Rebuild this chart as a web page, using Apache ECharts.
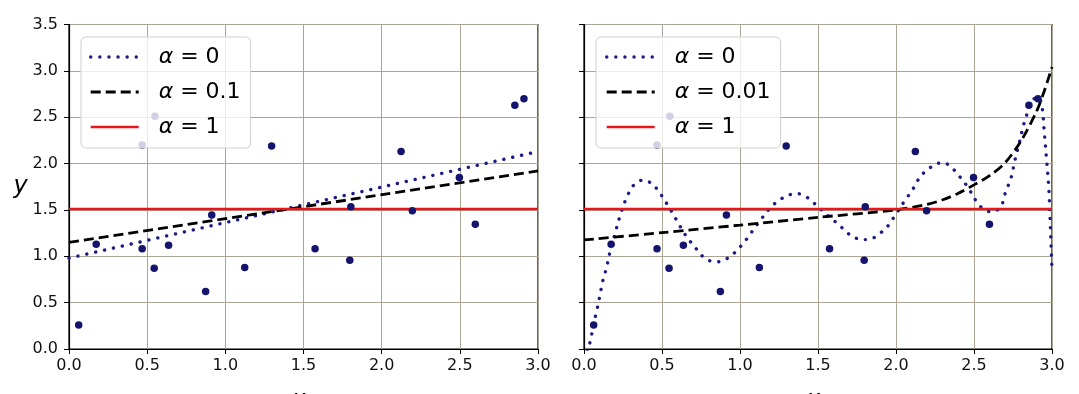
<!DOCTYPE html>
<html>
<head>
<meta charset="utf-8">
<script src="https://cdn.jsdelivr.net/npm/echarts@6/dist/echarts.min.js"></script>
<style>
html,body{margin:0;padding:0;background:#fff;}
#chart{width:1079px;height:394px;}
</style>
</head>
<body>
<div id="chart"></div>
<script>
// ---- data ----
const scatterX = [0.062,0.174,0.468,0.468,0.545,0.550,0.637,0.874,0.913,1.124,1.296,1.574,1.796,1.803,2.124,2.196,2.497,2.599,2.852,2.910];
const scatterY = [0.26,1.13,1.08,2.20,0.87,2.51,1.12,0.62,1.445,0.88,2.19,1.08,0.957,1.535,2.13,1.49,1.85,1.345,2.63,2.70];

// left panel (linear models)
const leftA0 = [[0,0.98],[3,2.13]];
const leftA01 = [[0,1.15],[3,1.92]];
const leftA1 = [[0,1.51],[3,1.51]];

// right panel (polynomial models)
const rightA0 = [
  [0.0,-0.12],[0.03,0.02],[0.045,0.12],[0.06,0.26],[0.08,0.40],[0.10,0.56],[0.12,0.73],[0.145,0.88],
  [0.167,1.05],[0.20,1.25],[0.23,1.43],[0.27,1.62],[0.32,1.77],[0.375,1.82],[0.43,1.79],[0.47,1.72],
  [0.53,1.57],[0.59,1.40],[0.65,1.23],[0.72,1.08],[0.76,1.00],[0.80,0.955],[0.855,0.94],[0.91,0.97],
  [0.96,1.03],[1.0,1.10],[1.04,1.18],[1.07,1.25],[1.14,1.41],[1.21,1.55],[1.26,1.615],[1.31,1.66],
  [1.37,1.675],[1.43,1.635],[1.47,1.58],[1.51,1.52],[1.556,1.45],[1.64,1.33],[1.68,1.265],[1.73,1.205],
  [1.79,1.18],[1.845,1.19],[1.89,1.24],[1.935,1.30],[1.97,1.38],[2.01,1.48],[2.06,1.61],[2.10,1.70],
  [2.13,1.79],[2.16,1.87],[2.20,1.93],[2.25,1.99],[2.30,2.01],[2.35,1.97],[2.39,1.895],[2.43,1.815],
  [2.47,1.72],[2.52,1.58],[2.56,1.51],[2.61,1.48],[2.67,1.53],[2.70,1.68],[2.74,1.86],[2.76,2.02],
  [2.79,2.22],[2.82,2.43],[2.85,2.58],[2.88,2.69],[2.91,2.72],[2.935,2.62],[2.95,2.35],[2.965,2.05],
  [2.98,1.72],[2.99,1.30],[3.0,0.85]
];
const rightA001 = [
  [0,1.176],[0.5,1.255],[1.0,1.336],[1.5,1.42],[2.0,1.50],[2.2,1.56],[2.3,1.61],[2.4,1.68],
  [2.5,1.77],[2.6,1.87],[2.7,2.01],[2.8,2.24],[2.9,2.56],[2.95,2.78],[3.0,3.04]
];
const rightA1 = [[0,1.51],[3,1.51]];

const xTicks = ['0.0','0.5','1.0','1.5','2.0','2.5','3.0'];
const yTicks = ['0.0','0.5','1.0','1.5','2.0','2.5','3.0','3.5'];

const legendLabels = {
  L0: '0', L01: '0.1', L1: '1',
  R0: '0', R001: '0.01', R1: '1'
};

// ---- chart ----
const NAVY = '#14146e';
const DOT = '#1c1c85';
const RED = '#e8161b';
const pts = scatterX.map((x,i)=>[x, scatterY[i]]);

const dottedStyle = {color:DOT, width:3.4, type:[0.1,9], cap:'round'};
const dashedStyle = {color:'#000', width:2.8, type:[10,5], cap:'butt'};
const solidStyle = {color:RED, width:2.5};

function xAxis(gi){
  return {
    type:'value', gridIndex:gi, min:0, max:3, interval:0.5,
    name: '{x|x}{s|1}', nameLocation:'middle', nameGap:38,
    nameTextStyle:{rich:{
      x:{fontFamily:'DejaVu Sans', fontStyle:'italic', fontSize:22, color:'#000'},
      s:{fontFamily:'DejaVu Sans', fontSize:14, color:'#000', verticalAlign:'bottom', padding:[10,0,0,0]}
    }},
    axisLine:{show:true, onZero:false, lineStyle:{color:'#000', width:1.2}},
    axisTick:{show:true, length:5, lineStyle:{color:'#000', width:1}},
    axisLabel:{margin:9, fontSize:16, fontFamily:'DejaVu Sans', color:'#111',
      formatter:(v)=>xTicks[Math.round(v/0.5)]},
    splitLine:{show:true, lineStyle:{color:'#aba596', width:1}}
  };
}
function yAxis(gi, labels){
  return {
    type:'value', gridIndex:gi, min:0, max:3.5, interval:0.5,
    name: labels ? 'y' : '', nameLocation:'middle', nameGap:40, nameRotate:0,
    nameTextStyle:{fontFamily:'DejaVu Sans', fontStyle:'italic', fontSize:24, color:'#000', padding:[0,0,26,0]},
    axisLine:{show:true, onZero:false, lineStyle:{color:'#000', width:1.2}},
    axisTick:{show:true, length:5, lineStyle:{color:'#000', width:1}},
    axisLabel:{show:labels, margin:11, fontSize:16, fontFamily:'DejaVu Sans', color:'#111',
      formatter:(v)=>yTicks[Math.round(v/0.5)]},
    splitLine:{show:true, lineStyle:{color:'#aba596', width:1}}
  };
}
function legend(left, names, pad){
  const styles = [dottedStyle, dashedStyle, solidStyle];
  return {
    orient:'vertical', left:left, top:37, selectedMode:false, z:10,
    data:names.map((n,i)=>({name:n, itemStyle:{opacity:0, color:'rgba(0,0,0,0)'}, lineStyle:styles[i]})),
    itemWidth:48, itemHeight:14, itemGap:9,
    padding:pad,
    backgroundColor:'rgba(255,255,255,0.8)', borderColor:'#cfcfcf', borderWidth:1, borderRadius:5,
    formatter:(n)=>'{g|α}{n| = ' + legendLabels[n] + '}',
    textStyle:{fontSize:22, fontFamily:'DejaVu Sans', color:'#000', lineHeight:26,
      rich:{
        g:{fontStyle:'italic', fontSize:22, fontFamily:'DejaVu Sans', color:'#000', padding:[0,0,0,15], lineHeight:26},
        n:{fontSize:22, fontFamily:'DejaVu Sans', color:'#000', lineHeight:26}
      }}
  };
}
function dotted(name, data, gi, smooth){
  return {name, type:'line', xAxisIndex:gi, yAxisIndex:gi, data, symbol:'none', smooth:smooth, clip:true,
    lineStyle:dottedStyle, itemStyle:{color:DOT}, z:3};
}
function dashed(name, data, gi, smooth){
  return {name, type:'line', xAxisIndex:gi, yAxisIndex:gi, data, symbol:'none', smooth:smooth, clip:true,
    lineStyle:dashedStyle, itemStyle:{color:'#000'}, z:3};
}
function solid(name, data, gi){
  return {name, type:'line', xAxisIndex:gi, yAxisIndex:gi, data, symbol:'none', clip:true,
    lineStyle:solidStyle, itemStyle:{color:RED}, z:3};
}
function scatter(gi){
  return {type:'scatter', xAxisIndex:gi, yAxisIndex:gi, data:pts, symbolSize:7.5,
    itemStyle:{color:NAVY, opacity:1}, z:4, silent:true};
}

const gridBase = {top:24.5, height:324.5, show:true, borderColor:'#000', borderWidth:1.2,
  backgroundColor:'transparent', containLabel:false, outerBoundsMode:'none'};

const chart = echarts.init(document.getElementById('chart'), null, {renderer:'canvas'});
chart.setOption({
  animation:false,
  backgroundColor:'#fff',
  grid:[
    Object.assign({left:69, width:469}, gridBase),
    Object.assign({left:584, width:468}, gridBase)
  ],
  xAxis:[xAxis(0), xAxis(1)],
  yAxis:[yAxis(0,true), yAxis(1,false)],
  legend:[
    legend(81, ['L0','L01','L1'], [7,10,8,8]),
    legend(596, ['R0','R001','R1'], [7,10,8,9])
  ],
  series:[
    dotted('L0', leftA0, 0, false),
    dashed('L01', leftA01, 0, false),
    solid('L1', leftA1, 0),
    scatter(0),
    dotted('R0', rightA0, 1, 0.35),
    dashed('R001', rightA001, 1, 0.3),
    solid('R1', rightA1, 1),
    scatter(1)
  ]
});
</script>
</body>
</html>
